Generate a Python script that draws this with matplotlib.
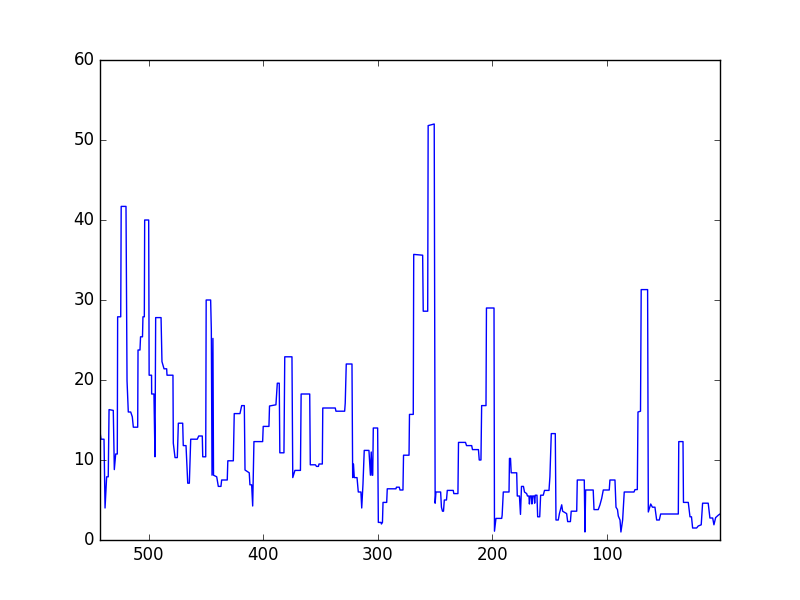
import matplotlib
matplotlib.use("Agg")
import matplotlib.pyplot as plt

# breakpoints of the trace (x runs high -> low)
x = [542.6, 541.7, 539.1, 538.2, 536.8, 535.4, 534.7, 531.0, 530.1, 528.9,
     527.5, 527.2, 524.5, 524.1, 519.9, 519.0, 517.9, 515.8, 514.4, 513.5,
     509.7, 509.4, 507.7, 507.2, 505.5, 505.1, 503.9, 503.6, 500.1, 499.7,
     497.6, 497.5, 495.5, 494.6, 494.0, 489.3, 488.5, 486.7, 484.4, 484.1,
     478.9, 478.6, 477.1, 475.1, 474.2, 470.4, 469.9, 467.5, 466.0, 464.6,
     463.4, 457.7, 456.4, 453.3, 452.9, 450.3, 449.9, 446.0, 445.4, 444.8,
     444.0, 443.5, 440.7, 439.3, 437.0, 436.4, 431.5, 431.0, 426.2, 425.4,
     420.4, 418.9, 416.6, 416.0, 412.3, 411.7, 410.2, 409.3, 408.2, 400.6,
     400.1, 395.1, 394.6, 389.0, 387.8, 386.1, 385.6, 382.0, 381.3, 375.0,
     374.3, 372.4, 367.6, 367.0, 359.5, 359.0, 354.5, 353.6, 351.9, 351.4,
     348.5, 348.1, 337.2, 336.6, 329.0, 328.5, 327.6, 322.6, 322.0, 321.3,
     320.6, 318.2, 317.1, 314.8, 314.1, 313.0, 311.9, 307.8, 306.5, 305.8,
     305.1, 304.5, 304.0, 300.2, 299.6, 297.3, 296.9, 296.0, 295.5, 292.3,
     291.8, 284.2, 283.8, 281.3, 280.7, 278.1, 277.6, 272.8, 272.4, 269.1,
     268.7, 260.9, 260.4, 256.5, 256.1, 250.8, 250.0, 249.3, 245.2, 244.5,
     243.6, 242.7, 242.0, 240.1, 239.4, 234.2, 233.7, 230.1, 229.6, 223.5,
     222.6, 218.1, 217.4, 212.2, 211.5, 210.0, 209.4, 205.6, 205.2, 198.6,
     198.2, 196.9, 191.9, 191.5, 190.5, 185.5, 185.1, 184.2, 183.6, 178.8,
     178.3, 176.4, 175.5, 174.6, 172.9, 172.0, 170.1, 169.4, 168.1, 167.7,
     167.0, 165.9, 165.5, 164.9, 163.7, 163.1, 162.6, 161.1, 160.5, 158.7,
     157.9, 155.6, 154.5, 150.6, 149.8, 148.6, 145.1, 144.5, 142.5, 141.5,
     139.5, 138.7, 135.2, 134.3, 131.9, 131.2, 126.4, 125.9, 119.8, 119.2,
     118.6, 112.0, 111.3, 107.6, 106.1, 104.6, 103.2, 98.0, 97.4, 93.0,
     92.1, 90.8, 90.1, 88.6, 87.8, 86.3, 84.9, 76.4, 75.5, 73.5,
     72.9, 70.7, 70.1, 64.5, 63.9, 61.8, 60.3, 58.1, 56.6, 54.3,
     53.1, 37.7, 37.3, 33.6, 33.2, 29.0, 27.5, 26.2, 25.2, 21.7,
     20.3, 17.7, 16.5, 11.6, 10.1, 7.7, 6.6, 5.1, 2.8, 1.3]

y = [13.5, 12.6, 12.6, 4.0, 7.9, 7.9, 16.3, 16.2, 8.8, 10.75,
     10.75, 27.9, 27.9, 41.7, 41.7, 19.9, 16.0, 16.0, 15.4, 14.1,
     14.1, 23.75, 23.75, 25.4, 25.4, 27.9, 27.9, 40.0, 40.0, 20.6,
     20.6, 18.25, 18.25, 10.4, 27.8, 27.8, 22.3, 21.4, 21.4, 20.6,
     20.6, 12.1, 10.3, 10.3, 14.6, 14.6, 11.8, 11.8, 7.1, 7.1,
     12.6, 12.6, 13.0, 13.0, 10.4, 10.4, 30.0, 30.0, 26.2, 8.1,
     25.2, 8.1, 7.9, 6.7, 6.7, 7.5, 7.5, 9.9, 9.9, 15.8,
     15.8, 16.8, 16.8, 8.75, 8.4, 6.9, 6.9, 4.25, 12.3, 12.3,
     14.2, 14.2, 16.75, 16.9, 19.6, 19.6, 10.9, 10.9, 22.9, 22.9,
     7.8, 8.7, 8.7, 18.25, 18.25, 9.4, 9.4, 9.2, 9.2, 9.5,
     9.5, 16.5, 16.5, 16.1, 16.1, 17.1, 22.0, 22.0, 7.8, 9.5,
     7.8, 7.8, 6.0, 6.0, 4.0, 7.0, 11.2, 11.2, 8.1, 11.0,
     8.1, 8.1, 14.0, 14.0, 2.2, 2.2, 2.0, 2.2, 4.7, 4.7,
     6.4, 6.4, 6.6, 6.6, 6.25, 6.25, 10.6, 10.6, 15.7, 15.7,
     35.7, 35.6, 28.6, 28.6, 51.8, 52.0, 4.6, 6.0, 6.0, 4.1,
     3.6, 3.6, 5.0, 5.0, 6.2, 6.2, 5.8, 5.8, 12.2, 12.2,
     11.8, 11.8, 11.3, 11.3, 10.0, 10.0, 16.8, 16.8, 29.0, 29.0,
     1.1, 2.7, 2.7, 3.1, 6.0, 6.0, 10.2, 10.2, 8.4, 8.4,
     5.5, 5.5, 3.2, 6.7, 6.7, 6.0, 5.8, 5.5, 5.5, 4.5,
     5.5, 5.5, 4.5, 5.5, 5.5, 4.6, 5.6, 5.6, 2.9, 2.9,
     5.6, 5.6, 6.2, 6.2, 7.9, 13.3, 13.3, 2.5, 2.5, 3.3,
     4.4, 3.6, 3.3, 2.3, 2.3, 3.6, 3.6, 7.5, 7.5, 1.0,
     6.25, 6.25, 3.8, 3.8, 4.4, 5.2, 6.25, 6.25, 7.5, 7.5,
     4.1, 3.8, 3.0, 2.5, 1.0, 2.5, 6.0, 6.0, 6.3, 6.3,
     16.0, 16.1, 31.3, 31.3, 3.5, 4.5, 4.1, 4.1, 2.5, 2.5,
     3.25, 3.25, 12.3, 12.3, 4.7, 4.7, 2.9, 2.9, 1.5, 1.5,
     1.75, 1.9, 4.6, 4.6, 2.75, 2.75, 1.9, 2.8, 3.1, 3.25]

plt.style.use('classic')
fig, ax = plt.subplots(figsize=(8, 6), dpi=100)
ax.plot(x, y, color='b', linewidth=1.0)
ax.set_xlim(x[0], x[-1])
ax.set_ylim(0, 60)
fig.savefig('out.png', dpi=100, facecolor='white')
